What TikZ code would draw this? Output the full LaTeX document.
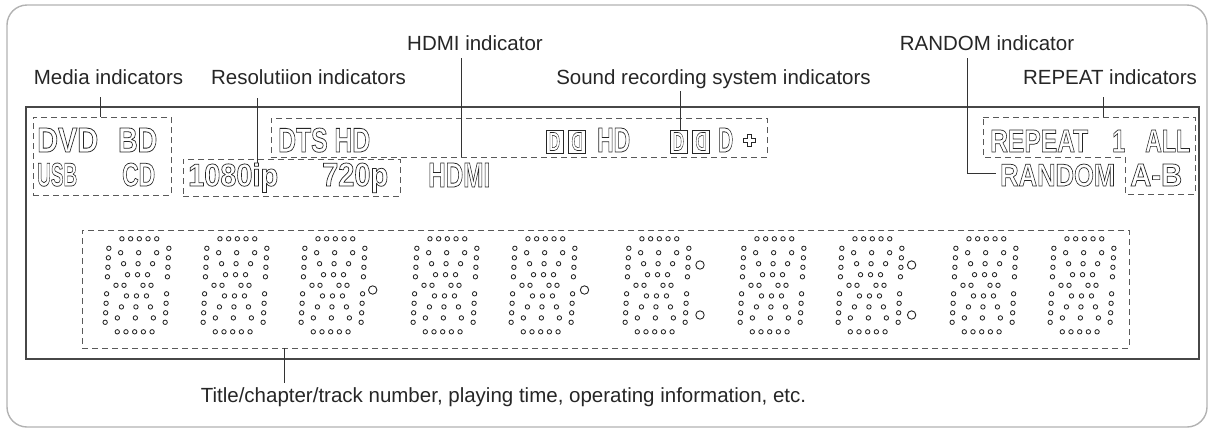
\documentclass[tikz,border=0pt]{standalone}
\usepackage{fontspec}
\setmainfont{Liberation Sans}
\usepackage{graphicx}
\newcommand{\outl}[1]{\special{pdf:literal direct 1 Tr 0.75 w}#1\special{pdf:literal direct 0 Tr}}
\newcommand{\dsp}[3]{\resizebox{#1pt}{#2pt}{\fontsize{33}{36}\selectfont\bfseries\outl{#3}}}
\tikzset{
  lbl/.style={font=\fontsize{20.5}{24}\selectfont, inner sep=0pt, anchor=base, text=black!85},
  dtxt/.style={inner sep=0pt, anchor=base west, text=black!85},
  dbox/.style={draw=black!65, dash pattern=on 6pt off 4pt, line width=1pt, inner sep=0pt},
  leader/.style={draw=black!80, line width=0.9pt},
  frame/.style={draw=black!72, line width=1.3pt},
  outer/.style={draw=black!30, line width=1.4pt, rounded corners=20pt},
  dotc/.style={draw=black!85, line width=0.85pt},
  dpc/.style={draw=black!85, line width=0.9pt},
  ddbox/.style={draw=black!85, line width=0.8pt, minimum width=17pt, minimum height=23pt, inner sep=0pt},
  digitpic/.pic={
    \foreach \x in {-17.4,-8.7,0,8.7,17.4}{
      \draw[dotc] ({\x+0.05*46.5},-46.5) circle[radius=2.2];
      \draw[dotc] ({\x-0.05*46.5},46.5) circle[radius=2.2];}
    \foreach \y in {-37,-27.5,-18,-8.5,8.5,18,27.5,37}{
      \draw[dotc] ({-30-0.05*\y},\y) circle[radius=2.2];
      \draw[dotc] ({30-0.05*\y},\y) circle[radius=2.2];}
    \foreach \x in {-21,-13,6,14} \draw[dotc] (\x,0) circle[radius=2.2];
    \foreach \x/\y in {-18/-32.6,0/-32.6,18/-32.6,-14.5/-21.6,0/-21.6,14.5/-21.6,-10/-10.6,0/-10.6,10/-10.6,-10/10.6,0/10.6,10/10.6,-14.5/21.6,0/21.6,14.5/21.6,-18/32.6,0/32.6,18/32.6}
      \draw[dotc] ({\x-0.05*\y},\y) circle[radius=2.2];
  }
}
\begin{document}
\begin{tikzpicture}[x=1pt,y=-1pt]
\useasboundingbox (0,0) rectangle (1214,432);
\draw[outer] (7,5) rectangle (1207,427);
\draw[frame] (26,107) rectangle (1199,359);

% labels
\node[lbl] (lhdmi) at (475,50) {HDMI indicator};
\node[lbl] (lrandom) at (987,50) {RANDOM indicator};
\node[lbl] (lmedia) at (108.5,84) {Media indicators};
\node[lbl] (lres) at (308.5,84) {Resolutiion indicators};
\node[lbl] (lsound) at (713.5,84) {Sound recording system indicators};
\node[lbl] (lrepeat) at (1110,84) {REPEAT indicators};
\node[lbl] (ltitle) at (503.5,402) {Title/chapter/track number, playing time, operating information, etc.};

% dashed boxes
\node[dbox, minimum width=138pt, minimum height=78pt] (mediabox) at (102,156) {};
\node[dbox, minimum width=217pt, minimum height=37pt] (resbox) at (291.5,177.5) {};
\node[dbox, minimum width=496pt, minimum height=39pt] (soundbox) at (519,137.5) {};
\node[dbox, minimum width=1047pt, minimum height=118pt] (digitbox) at (605.5,289) {};
\draw[dbox] (983,117) -- (1195,117) -- (1195,194) -- (1125,194) -- (1125,157) -- (983,157) -- cycle;

% display texts row 1
\node[dtxt] (tdvd) at (37,152) {\dsp{61}{24}{DVD}};
\node[dtxt] (tbd) at (118,152) {\dsp{39}{24}{BD}};
\node[dtxt] (tdts) at (278,152) {\dsp{92}{24}{DTS HD}};
\node[ddbox] (dda) at (554.5,141.5) {};
\node[ddbox] (ddb) at (577,141.5) {};
\node[inner sep=0pt,text=black!85] (dda1) at (dda) {\dsp{11}{18}{D}};
\node[inner sep=0pt,text=black!85] (ddb1) at (ddb) {\reflectbox{\dsp{11}{18}{D}}};
\node[dtxt] (thd) at (597,152) {\dsp{33}{24}{HD}};
\node[ddbox] (ddc) at (678.5,141.5) {};
\node[ddbox] (ddd) at (701,141.5) {};
\node[inner sep=0pt,text=black!85] (ddc1) at (ddc) {\dsp{11}{18}{D}};
\node[inner sep=0pt,text=black!85] (ddd1) at (ddd) {\reflectbox{\dsp{11}{18}{D}}};
\node[dtxt] (tdp) at (718,152) {\dsp{15}{24}{D}};
\draw[draw=black!85, line width=0.8pt] (747,134) -- (751,134) -- (751,138) -- (755,138) -- (755,142) -- (751,142) -- (751,146) -- (747,146) -- (747,142) -- (743,142) -- (743,138) -- (747,138) -- cycle;
\node[dtxt] (trepeat) at (990,152) {\dsp{98}{22}{REPEAT}};
\node[dtxt] (tone) at (1112,152) {\dsp{13}{22}{1}};
\node[dtxt] (tall) at (1145,152) {\dsp{45}{22}{ALL}};

% display texts row 2
\node[dtxt] (tusb) at (37,186) {\dsp{40}{23}{USB}};
\node[dtxt] (tcd) at (122,186) {\dsp{33}{23}{CD}};
\node[dtxt] (t1080) at (188,186) {\dsp{90}{23}{1080ip}};
\node[dtxt] (t720) at (322,186) {\dsp{66}{23}{720p}};
\node[dtxt] (thdmi) at (428,187) {\dsp{62}{24}{HDMI}};
\node[dtxt] (trandom) at (1000,186) {\dsp{115}{22}{RANDOM}};
\node[dtxt] (tab) at (1130,186) {\dsp{52}{22}{A-B}};

% digits
\foreach \cx in {137,235,333,445,543,657,772,870,984,1082}
  \pic at (\cx,285.3) {digitpic};
\draw[dpc] (372.7,290) circle[radius=4.2];
\draw[dpc] (584.5,290) circle[radius=4.2];
\draw[dpc] (700,265) circle[radius=4.2];
\draw[dpc] (700,315) circle[radius=4.2];
\draw[dpc] (911.6,265) circle[radius=4.2];
\draw[dpc] (911.6,315) circle[radius=4.2];

% leaders
\coordinate (eHdmi) at (461,157);
\coordinate (eMedia) at (100,117);
\coordinate (eRes) at (257,163);
\coordinate (eSound) at (680,130);
\coordinate (cRandom) at (967,173);
\coordinate (eRandom) at (996,173);
\coordinate (eRepeat) at (1103,117);
\coordinate (sTitle) at (284,348);
\coordinate (eTitle) at (284,383);
\draw[leader] (lhdmi.base -| eHdmi) ++(0,8) -- (eHdmi);
\draw[leader] (lmedia.base -| eMedia) ++(0,13) -- (eMedia);
\draw[leader] (lres.base -| eRes) ++(0,14) -- (eRes);
\draw[leader] (lsound.base -| eSound) ++(0,7) -- (eSound);
\draw[leader] (lrandom.base -| cRandom) ++(0,8) -- (cRandom) -- (eRandom);
\draw[leader] (lrepeat.base -| eRepeat) ++(0,13) -- (eRepeat);
\draw[leader] (sTitle) -- (eTitle);
\end{tikzpicture}
\end{document}
